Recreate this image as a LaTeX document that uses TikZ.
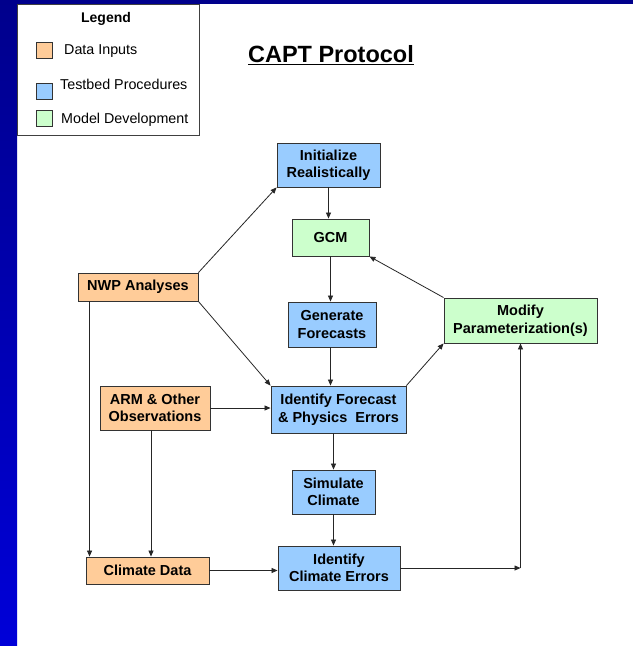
\documentclass[tikz,border=0pt]{standalone}
\usepackage{fontspec}
\setmainfont{Liberation Sans}
\usetikzlibrary{arrows.meta,calc}
\definecolor{datainput}{HTML}{FFCC99}
\definecolor{testbed}{HTML}{99CCFF}
\definecolor{modeldev}{HTML}{CCFFCC}
\definecolor{slidenavy}{HTML}{00008C}
\definecolor{slideblue}{HTML}{0000D8}
\tikzset{
  procbox/.style={draw=black!80, line width=0.9pt, align=center, inner sep=0pt,
    font=\fontsize{14.5}{17.5}\selectfont\bfseries},
  inputbox/.style={procbox, fill=datainput},
  testbox/.style={procbox, fill=testbed},
  devbox/.style={procbox, fill=modeldev},
  flow/.style={draw=black!85, line width=0.8pt, -{Triangle[length=6pt,width=5pt]}},
  swatch/.style={draw=black!80, line width=0.8pt, minimum size=16pt, inner sep=0pt},
  lgdtext/.style={anchor=west, inner sep=0pt, font=\fontsize{14.3}{17}\selectfont},
}

\begin{document}
\begin{tikzpicture}[x=1pt,y=-1pt]
\useasboundingbox (0,0) rectangle (633,646);
\fill[white] (0,0) rectangle (633,646);
% slide border
\shade[top color=slidenavy, bottom color=slideblue] (0,0) rectangle (17,646);
\fill[slidenavy] (0,0) rectangle (633,4);

% legend
\node (lgdbox) [draw=black!75, fill=white, line width=0.8pt, minimum width=182pt, minimum height=131pt, inner sep=0pt] at (108,69.5) {};
\node (lgdtitle) [font=\fontsize{14}{16}\selectfont\bfseries] at (106,18.5) {Legend};
\node (swin) [swatch, fill=datainput] at (44,50) {};
\node (swtest) [swatch, fill=testbed] at (44,91) {};
\node (swdev) [swatch, fill=modeldev] at (44,118.5) {};
\node (txin) [lgdtext] at (64,51.5) {Data Inputs};
\node (txtest) [lgdtext] at (60,84.5) {Testbed Procedures};
\node (txdev) [lgdtext] at (61,119.5) {Model Development};

% title
\node (title) [font=\fontsize{23.5}{27}\selectfont\bfseries] at (331,55) {\underline{CAPT Protocol}};

% boxes
\node (init) [testbox, minimum width=103pt, minimum height=44pt] at (328.5,165) {Initialize\\Realistically};
\node (gcm) [devbox, minimum width=77pt, minimum height=37pt] at (330.5,237.5) {GCM};
\node (nwp) [inputbox, minimum width=120pt, minimum height=28pt] at (138,287) {NWP Analyses};
\node (gen) [testbox, minimum width=88pt, minimum height=45pt] at (332,324.5) {Generate\\Forecasts};
\node (mod) [devbox, minimum width=153pt, minimum height=45pt] at (520.5,320.5) {Modify\\Parameterization(s)};
\node (arm) [inputbox, minimum width=110pt, minimum height=44pt] at (155,408) {ARM \& Other\\Observations};
\node (ife) [testbox, minimum width=135pt, minimum height=47pt] at (338.5,409.5) {Identify Forecast\\\& Physics~ Errors};
\node (sim) [testbox, minimum width=83pt, minimum height=44pt] at (333.5,492) {Simulate\\Climate};
\node (cd) [inputbox, minimum width=123pt, minimum height=27pt] at (147.5,570.5) {Climate Data};
\node (ice) [testbox, minimum width=122pt, minimum height=44pt] at (339,568) {Identify\\Climate Errors};
\coordinate (corner) at (mod.south |- ice.east);

% connectors
\draw[flow] (nwp.north east) -- (init.south west);
\draw[flow] (init.south) -- (init.south |- gcm.north);
\draw[flow] (gcm.south) -- (gcm.south |- gen.north);
\draw[flow] (gcm.south |- gen.south) -- (gcm.south |- ife.north);
\draw[flow] (nwp.south east) -- (ife.north west);
\draw[flow] (arm.east) -- (arm.east -| ife.west);
\draw[flow] (ife.north east) -- (mod.south west);
\draw[flow] (mod.north west) -- (gcm.south east);
\draw[flow] (sim.north |- ife.south) -- (sim.north);
\draw[flow] (sim.south) -- (sim.south |- ice.north);
\draw[flow] ([xshift=12pt]nwp.south west) -- ([xshift=4pt]cd.north west);
\draw[flow] ([xshift=-4pt]arm.south) -- ([xshift=3.5pt]cd.north);
\draw[flow] (cd.east) -- (cd.east -| ice.west);
\draw[flow] (ice.east) -- (corner);
\draw[flow] (corner) -- (mod.south);
\end{tikzpicture}
\end{document}
